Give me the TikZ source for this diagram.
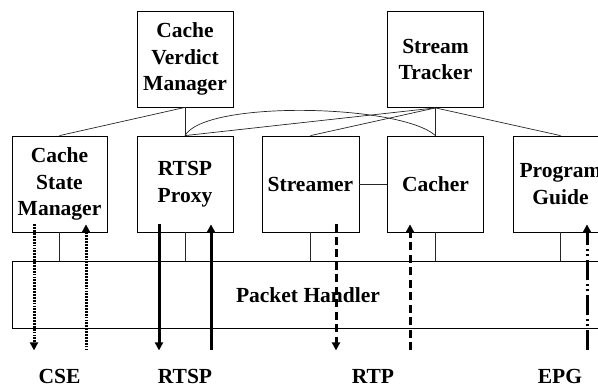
\documentclass[tikz,border=0pt]{standalone}
\usepackage{fontspec}
\setmainfont{Liberation Serif}
\usetikzlibrary{arrows.meta,calc}
\begin{document}
\begin{tikzpicture}[x=1pt,y=-1pt,
  box/.style={draw,line width=0.8pt,minimum width=96pt,minimum height=96pt,inner sep=0pt,align=center,
    font=\fontsize{21.5}{26.5}\selectfont\bfseries},
  lbl/.style={font=\fontsize{21.5}{26.5}\selectfont\bfseries,inner sep=0pt},
  conn/.style={line width=0.7pt,black!85},
  flow/.style={line width=3pt},
  tip/.style={-{Triangle[width=8pt,length=8pt]}},
  dotline/.style={dash pattern=on 1.8pt off 1.1pt},
  dashline/.style={dash pattern=on 8pt off 4.5pt},
  dashdotline/.style={dash pattern=on 20pt off 4pt on 2pt off 3pt on 2pt off 4pt},
]
\useasboundingbox (0,0) rectangle (598,387);
\clip (0,0) rectangle (598,387);
% top row
\node[box] (cvm) at (185,59) {Cache\\Verdict\\Manager};
\node[box] (st) at (435.5,59.5) {Stream\\Tracker};
% middle row
\node[box,minimum width=95pt] (csm) at (59.5,184) {Cache\\State\\Manager};
\node[box] (rtsp) at (185,184) {RTSP\\Proxy};
\node[box,minimum width=97pt] (str) at (310.5,184) {Streamer};
\node[box] (cch) at (435.5,184) {Cacher};
\node[box,minimum width=95pt] (pg) at (560.5,184) {Program\\Guide};
% packet handler
\node[draw,line width=0.8pt,minimum width=610pt,minimum height=67pt,inner sep=0pt,anchor=north west] (ph) at (12,261) {};
\node[lbl] (phl) at (308,295) {Packet Handler};
% connectors top
\draw[conn] (cvm.south) -- (csm.north);
\draw[conn] (cvm.south) -- (rtsp.north);
\draw[conn] (st.south) -- (rtsp.north);
\draw[conn] (st.south) -- (str.north);
\draw[conn] (st.south) -- (cch.north);
\draw[conn] (st.south) -- (pg.north);
\draw[conn] (rtsp.north) .. controls (205,100) and (400,104) .. (cch.north);
\draw[conn] (str.east) -- (cch.west);
% connectors to packet handler
\foreach \b in {csm,rtsp,str,cch,pg}
  \draw[conn] (\b.south) -- (\b.south |- ph.north);
% flow arrows
\coordinate (a1t) at ($(csm.south)+(-25.5,-8)$);
\coordinate (a1b) at ($(csm.south)+(-25.5,118)$);
\coordinate (a2t) at ($(csm.south)+(26.5,-8)$);
\coordinate (a2b) at ($(csm.south)+(26.5,118)$);
\coordinate (a3t) at ($(rtsp.south)+(-26,-8)$);
\coordinate (a3b) at ($(rtsp.south)+(-26,118)$);
\coordinate (a4t) at ($(rtsp.south)+(26,-8)$);
\coordinate (a4b) at ($(rtsp.south)+(26,118)$);
\coordinate (a5t) at ($(str.south)+(25.5,-8)$);
\coordinate (a5b) at ($(str.south)+(25.5,118)$);
\coordinate (a6t) at ($(cch.south)+(-25.5,-8)$);
\coordinate (a6b) at ($(cch.south)+(-25.5,118)$);
\coordinate (a7t) at ($(pg.south)+(26.5,-8)$);
\coordinate (a7b) at ($(pg.south)+(26.5,118)$);
\draw[flow,dotline,tip] (a1t) -- (a1b);
\draw[flow,dotline,tip] (a2b) -- (a2t);
\draw[flow,tip] (a3t) -- (a3b);
\draw[flow,tip] (a4b) -- (a4t);
\draw[flow,dashline,tip] (a5t) -- (a5b);
\draw[flow,dashline,tip] (a6b) -- (a6t);
\draw[flow,dashdotline,tip] (a7b) -- (a7t);
% labels
\node[lbl] (cse) at (59.5,376) {CSE};
\node[lbl] (rtspl) at (185,376) {RTSP};
\node[lbl] (rtp) at (373,376) {RTP};
\node[lbl] (epg) at (560,376) {EPG};
\end{tikzpicture}
\end{document}
